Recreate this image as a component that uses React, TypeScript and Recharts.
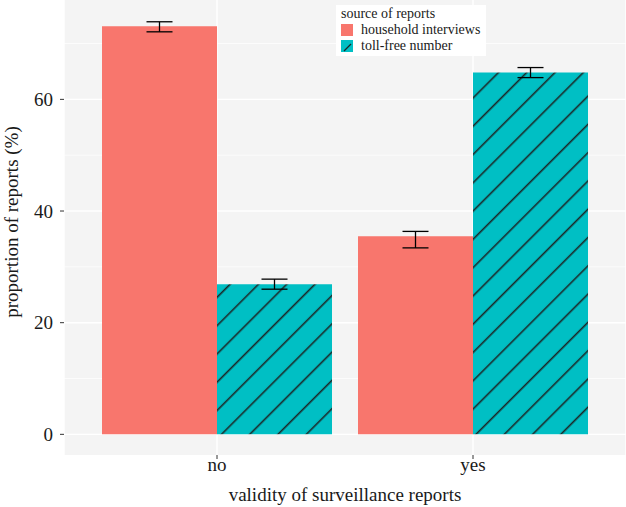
import { BarChart, Bar, XAxis, YAxis, CartesianGrid, ErrorBar, Legend, Label } from "recharts";

// values
const categories = ["no", "yes"];
const household = [73.1, 35.5];
const tollFree = [26.9, 64.8];
const householdErr: [number, number][] = [[1.0, 0.8], [2.1, 0.85]];
const tollFreeErr: [number, number][] = [[0.9, 0.9], [0.9, 0.9]];
const yTicks = [0, 20, 40, 60];
const yMinor = [10, 30, 50, 70];
const seriesNames = ["household interviews", "toll-free number"];

const SERIF = '"Liberation Serif", "DejaVu Serif", serif';
const SALMON = "#F8766D";
const TEAL = "#00BFC4";
const INK = "#1a1a1a";

const data = categories.map((name, i) => ({
  name,
  household: household[i],
  tollFree: tollFree[i],
  householdErr: householdErr[i],
  tollFreeErr: tollFreeErr[i],
}));

function renderLegend() {
  return (
    <div
      style={{
        display: "inline-block",
        background: "#fff",
        padding: "1px 6px 2px 5px",
        fontFamily: SERIF,
        fontSize: 14,
        lineHeight: "16px",
        color: INK,
        whiteSpace: "nowrap",
      }}
    >
      <div>source of reports</div>
      {seriesNames.map((n, i) => (
        <div key={n} style={{ display: "flex", alignItems: "center" }}>
          <svg width={12} height={12} style={{ marginRight: 8 }}>
            <rect width={12} height={12} fill={i === 0 ? SALMON : TEAL} />
            {i === 1 && (
              <line x1={3} y1={11} x2={10} y2={4} stroke="#1b2626" strokeWidth={1.3} />
            )}
          </svg>
          <span>{n}</span>
        </div>
      ))}
    </div>
  );
}

const axisText = { fontSize: 19, fill: INK, fontFamily: SERIF, style: { fontFamily: SERIF } };

export default function App() {
  return (
    <div style={{ position: "absolute", left: 0, top: 0, background: "#fff" }}>
      <svg width={0} height={0} style={{ position: "absolute" }}>
        <defs>
          <pattern
            id="hatch"
            patternUnits="userSpaceOnUse"
            width={20}
            height={20}
            patternTransform="rotate(45)"
          >
            <rect width={20} height={20} fill={TEAL} />
            <line x1={3.7} y1={0} x2={3.7} y2={20} stroke="#1b2626" strokeWidth={1.6} />
          </pattern>
        </defs>
      </svg>
      <BarChart
        width={626}
        height={507}
        data={data}
        margin={{ top: 0, right: 0, left: 0, bottom: 0 }}
        barCategoryGap={13}
        barGap={0}
      >
        <CartesianGrid
          fill="#F4F4F4"
          fillOpacity={1}
          stroke="#fff"
          strokeWidth={1.4}
          horizontalValues={yTicks}
        />
        <CartesianGrid
          stroke="#fff"
          strokeWidth={0.7}
          vertical={false}
          horizontalValues={yMinor}
        />
        <XAxis
          dataKey="name"
          height={52}
          padding={{ left: 25, right: 25 }}
          axisLine={false}
          tickSize={4}
          tickMargin={-1}
          tickLine={{ stroke: "#333" }}
          interval={0}
          tick={axisText}
        >
          <Label
            content={() => (
              <text
                x={345}
                y={501}
                textAnchor="middle"
                fontSize={19}
                fill={INK}
                style={{ fontFamily: SERIF }}
              >
                validity of surveillance reports
              </text>
            )}
          />
        </XAxis>
        <YAxis
          width={64}
          type="number"
          domain={[-3.7, 77.8]}
          ticks={yTicks}
          axisLine={false}
          tickSize={4}
          tickMargin={7}
          tickLine={{ stroke: "#333" }}
          tick={axisText}
        >
          <Label
            content={() => (
              <text
                x={18}
                y={222}
                transform="rotate(-90 18 222)"
                textAnchor="middle"
                fontSize={19}
                fill={INK}
                style={{ fontFamily: SERIF }}
              >
                proportion of reports (%)
              </text>
            )}
          />
        </YAxis>
        <Legend
          layout="horizontal"
          verticalAlign="middle"
          align="center"
          content={renderLegend}
          wrapperStyle={{ left: 336, top: 5, width: "auto" }}
        />
        <Bar dataKey="household" name={seriesNames[0]} fill={SALMON} isAnimationActive={false}>
          <ErrorBar dataKey="householdErr" width={13} stroke="#000" strokeWidth={1.3} direction="y" />
        </Bar>
        <Bar dataKey="tollFree" name={seriesNames[1]} fill="url(#hatch)" isAnimationActive={false}>
          <ErrorBar dataKey="tollFreeErr" width={13} stroke="#000" strokeWidth={1.3} direction="y" />
        </Bar>
      </BarChart>
    </div>
  );
}
